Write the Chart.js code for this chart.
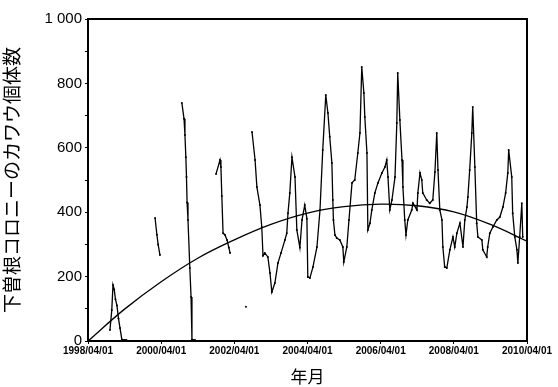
<!DOCTYPE html>
<html>
<head>
<meta charset="utf-8">
<script src="https://cdn.jsdelivr.net/npm/chart.js@4"></script>
<style>
	html, body { margin: 0; padding: 0; background: #fff; }
	canvas { display: block; }
</style>
</head>
<body>
<canvas id="myChart" width="558" height="387"></canvas>
<script>
// x values are months since 1998/04/01
const xTickLabels = ['1998/04/01', '2000/04/01', '2002/04/01', '2004/04/01', '2006/04/01', '2008/04/01', '2010/04/01'];

// observed counts, null = no survey (gap)
const surveyMonths = [
	7.2, 7.8, 8.2, 8.6, 9.0, 9.5, 10.0, 10.5, 11.1, 12.1, 12.6, null,
	22.0, 22.6, 23.0, 23.6, null,
	30.8, 31.5, 31.8, 32.1, 32.3, 32.5, 32.8, 33.4, 33.8, 34.1, 35.1, null,
	42.0, 43.3, 43.6, 43.9, 44.3, 44.9, 45.6, 46.2, 46.6, null,
	51.8, null,
	53.8, 54.8, 55.4, 56.4, 57.0, 57.4, 58.0, 59.0, 59.7, 60.3, 61.3, 62.3, 63.3, 64.6, 65.2, 65.6,
	66.2, 66.9, 67.9, 68.5, 69.5, 70.2, 71.1, 71.8, 72.1, 72.8, 73.8, 75.1, 76.1, 77.0, 78.0, 78.7,
	79.3, 80.0, 80.3, 80.5, 81.0, 81.6, 82.6, 83.6, 83.9, 84.9, 85.6, 86.6, 87.5, 88.5, 89.2, 89.8,
	90.5, 90.8, 91.5, 91.8, 92.5, 93.1, 94.1, 95.1, 96.4, 97.4, 98.0, 98.4, 99.0, 99.7, 100.7, 101.3,
	101.6, 102.3, 103.0, 103.3, 103.9, 104.3, 104.9, 106.2, 106.6, 107.9, 108.2, 108.9, 109.5, 109.8, 111.1, 112.1,
	113.1, 113.8, 114.4, 114.8, 115.4, 116.1, 116.4, 117.0, 117.7, 118.7, 119.7, 120.3, 121.0, 122.0, 123.0, 123.6,
	124.3, 124.6, 125.2, 125.9, 126.2, 126.9, 127.5, 127.9, 129.2, 129.5, 130.8, 131.1, 131.8, 132.8, 134.1, 135.1,
	136.1, 137.0, 137.7, 138.0, 139.0, 139.3, 140.0, 140.7, 141.0, 141.6, 142.3, 142.6
];
const surveyCounts = [
	34, 96, 174, 160, 130, 110, 70, 40, 5, 3, 3, null,
	382, 330, 300, 267, null,
	739, 690, 640, 571, 509, 430, 376, 227, 137, 5, 3, null,
	519, 562, 540, 450, 335, 330, 314, 290, 273, null,
	106, null,
	649, 562, 478, 422, 354, 265, 273, 261, 211, 152, 180, 242, 273, 314, 335, 397,
	460, 571, 509, 345, 290, 376, 422, 380, 199, 196, 230, 292, 407, 593, 764, 708,
	634, 553, 438, 376, 329, 320, 314, 292, 245, 292, 376, 491, 500, 584, 646, 851,
	770, 696, 584, 345, 366, 407, 460, 491, 522, 540, 562, 509, 407, 438, 509, 677,
	832, 686, 562, 478, 376, 329, 376, 407, 428, 407, 460, 522, 500, 460, 438, 428,
	438, 525, 646, 531, 407, 376, 292, 230, 227, 283, 323, 292, 335, 366, 292, 376,
	416, 447, 531, 646, 727, 540, 366, 323, 314, 283, 261, 292, 335, 354, 376, 385,
	416, 460, 522, 593, 509, 397, 323, 283, 242, 323, 428, 323
];

// fitted trend curve
const trendMonths = [0, 12, 24, 36, 48, 60, 72, 84, 96, 108, 120, 132, 144];
const trendCounts = [0, 99, 184, 257, 314, 362, 397, 417, 425, 420, 401, 362, 310];

const surveyPoints = surveyMonths.map((m, i) => ({ x: m === null ? NaN : m, y: surveyCounts[i] }));
const trendPoints = trendMonths.map((m, i) => ({ x: m, y: trendCounts[i] }));

// box round the plot area (top and right sides)
const frame = {
	id: 'frame',
	afterDatasetsDraw(chart) {
		const { ctx, chartArea } = chart;
		ctx.save();
		ctx.strokeStyle = '#000';
		ctx.lineWidth = 2;
		ctx.beginPath();
		ctx.moveTo(chartArea.left, chartArea.top);
		ctx.lineTo(chartArea.right, chartArea.top);
		ctx.lineTo(chartArea.right, chartArea.bottom);
		ctx.stroke();
		ctx.restore();
	},
};

const ctx = document.getElementById('myChart');
new Chart(ctx, {
	type: 'line',
	data: {
		datasets: [
			{
				data: surveyPoints,
				borderColor: '#000',
				backgroundColor: '#000',
				borderWidth: 1.3,
				pointRadius: 1,
				pointBorderWidth: 0,
				spanGaps: false,
				tension: 0,
			},
			{
				data: trendPoints,
				borderColor: '#000',
				borderWidth: 1.3,
				pointRadius: 0,
				tension: 0.4,
			},
		],
	},
	options: {
		responsive: false,
		animation: false,
		devicePixelRatio: 1,
		layout: {
			padding: { top: 19, right: 31, left: 0, bottom: 0 },
		},
		scales: {
			x: {
				type: 'linear',
				min: 0,
				max: 144,
				grid: { drawOnChartArea: false, color: '#000', tickLength: 3 },
				border: { color: '#000', width: 2 },
				ticks: {
					stepSize: 24,
					autoSkip: false,
					maxRotation: 0,
					padding: 1,
					color: '#000',
					font: { family: 'Liberation Sans', size: 10, weight: 'bold' },
					callback: (v) => xTickLabels[v / 24] ?? '',
				},
				title: {
					display: true,
					text: '年月',
					color: '#000',
					font: { family: 'Noto Sans CJK JP', size: 17 },
					padding: { top: 0, bottom: 0 },
				},
				afterFit: (scale) => { scale.height = 46; },
			},
			y: {
				min: 0,
				max: 1000,
				grid: { drawOnChartArea: false, color: '#000', tickLength: 3 },
				border: { color: '#000', width: 2 },
				ticks: {
					stepSize: 100,
					autoSkip: false,
					padding: 3,
					color: '#000',
					font: { family: 'Liberation Sans', size: 15 },
					callback: (v) => (v % 200 === 0 ? (v === 1000 ? '1 000' : v) : ''),
				},
				title: {
					display: true,
					text: '下曽根コロニーのカワウ個体数',
					color: '#000',
					font: { family: 'Noto Sans CJK JP', size: 19 },
					padding: { top: 0, bottom: 0 },
				},
				afterFit: (scale) => { scale.width = 88; },
			},
		},
		plugins: {
			legend: { display: false },
			tooltip: { enabled: false },
		},
	},
	plugins: [frame],
});
</script>
</body>
</html>
